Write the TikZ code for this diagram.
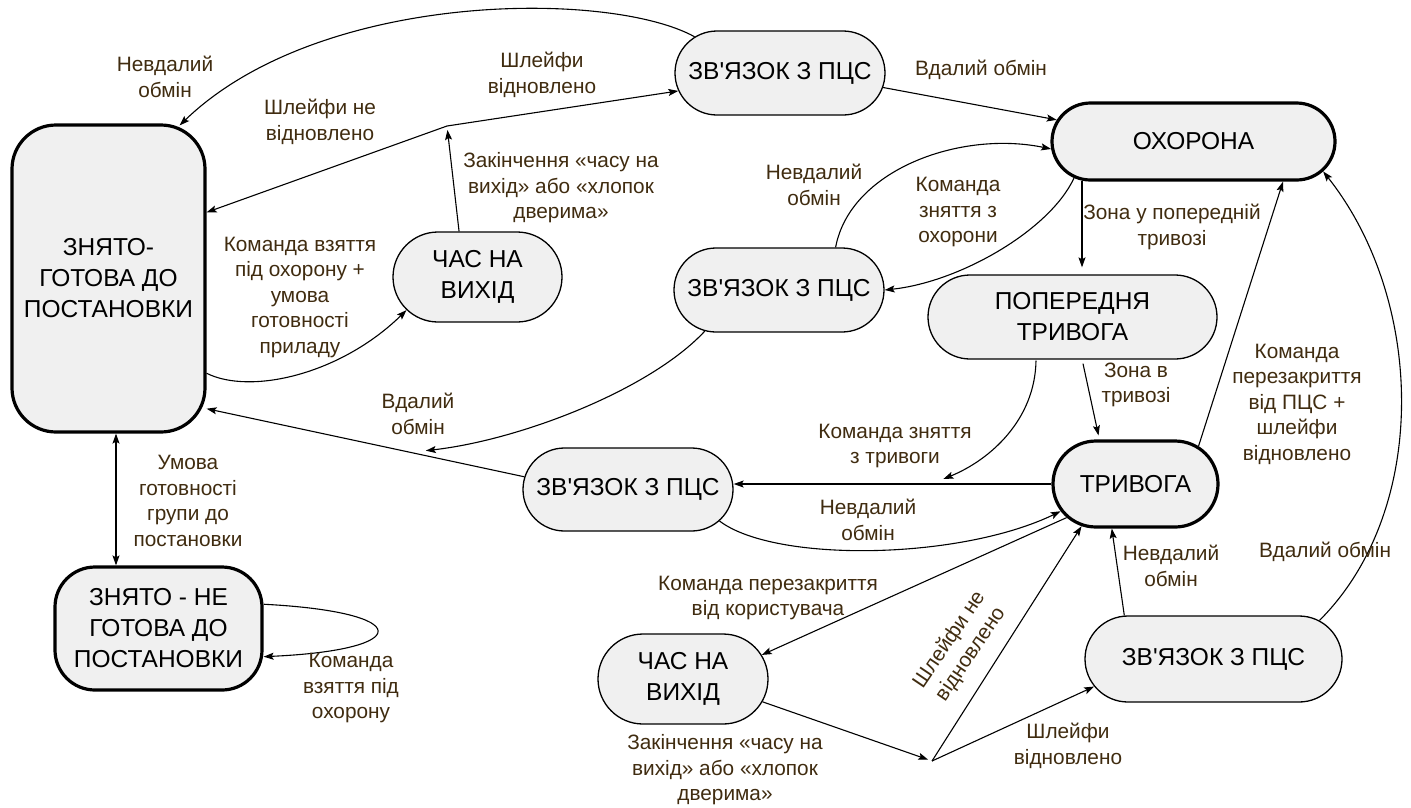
\documentclass[tikz,border=0pt]{standalone}
\usepackage{fontspec}
\setmainfont{Liberation Sans}[Ligatures=TeXOff]
\usetikzlibrary{shapes.misc,arrows.meta,calc}
\definecolor{nodefill}{RGB}{240,240,240}
\definecolor{lblcol}{RGB}{64,44,16}
\newcommand{\myNF}{\fontsize{24.5}{31}\selectfont}
\newcommand{\myLF}{\fontsize{20.8}{25.5}\selectfont}
\tikzset{
  st/.style={draw, fill=nodefill, line width=1.3pt, font=\myNF, align=center, inner sep=0pt},
  stad/.style={st, rounded rectangle},
  heavy/.style={line width=3.2pt},
  lbl/.style={font=\myLF, text=lblcol, align=center, inner sep=0pt},
  arr/.style={-{Stealth[length=10pt,width=7pt,inset=2pt]}, line width=1.1pt},
  darr/.style={{Stealth[length=10pt,width=7pt,inset=2pt]}-{Stealth[length=10pt,width=7pt,inset=2pt]}, line width=1.1pt},
}
\begin{document}
\begin{tikzpicture}[x=1pt,y=-1pt]
\path[use as bounding box, fill=white] (0,0) rectangle (1411,807);

% nodes
\node[st, heavy, rounded corners=44pt, minimum width=193pt, minimum height=307pt] (Z1) at (108.5,278.5) {ЗНЯТО-\\ГОТОВА ДО\\ПОСТАНОВКИ};
\node[st, heavy, rounded corners=40pt, minimum width=207pt, minimum height=123pt] (Z2) at (158.5,628.5) {ЗНЯТО - НЕ\\ГОТОВА ДО\\ПОСТАНОВКИ};
\node[stad, minimum width=169pt, minimum height=90pt] (C1) at (477.5,277) {ЧАС НА\\ВИХІД};
\node[stad, minimum width=210pt, minimum height=84pt] (S1) at (780,73) {ЗВ'ЯЗОК З ПЦС};
\node[stad, heavy, minimum width=283pt, minimum height=77pt] (O) at (1193.5,141.5) {ОХОРОНА};
\node[stad, minimum width=210pt, minimum height=84pt] (S2) at (779,290) {ЗВ'ЯЗОК З ПЦС};
\node[stad, minimum width=289pt, minimum height=84pt] (P) at (1072.5,317) {ПОПЕРЕДНЯ\\ТРИВОГА};
\node[stad, heavy, minimum width=165pt, minimum height=86pt] (T) at (1135.5,484) {ТРИВОГА};
\node[stad, minimum width=210pt, minimum height=83pt] (S3) at (628,489.5) {ЗВ'ЯЗОК З ПЦС};
\node[stad, minimum width=170pt, minimum height=90pt] (C2) at (683,679) {ЧАС НА\\ВИХІД};
\node[stad, minimum width=257pt, minimum height=86pt] (S4) at (1213.5,659) {ЗВ'ЯЗОК З ПЦС};
\coordinate (J1) at (447,126);
\coordinate (J2) at (932,761);

% connectors
\draw[arr] (S1.157) .. controls (610,-10) and (320,-10) .. ([shift={(-27,2)}]Z1.north east);
\draw[arr] (S1.-8) -- (O.171);
\draw[arr] (Z1.-44) .. controls (250,395) and (340,375) .. (C1.205);
\draw[arr, shorten >=4pt] (C1.112) -- (J1);
\draw[arr] (J1) -- (S1.190);
\draw[arr] (J1) -- (Z1.34);
\draw[arr] (S2.37) .. controls (850,170) and (960,130) .. (O.183);
\draw[arr] (O.197) .. controls (1050,230) and (960,282) .. (S2.east);
\draw[arr] ([shift={(-111.5,-1)}]O.south) -- ([shift={(9.5,-7)}]P.north);
\coordinate (M1) at ($(S3.173)!0.31!(Z1.-53)$);
\draw[arr] (S3.173) -- (Z1.-53);
\draw[arr] (S2.209) .. controls (650,390) and (520,440) .. ([shift={(0,-5)}]M1);
\draw[arr] ([shift={(10.5,4)}]P.south) -- ([shift={(-37,-4)}]T.north);
\coordinate (M2) at ($(T.west)!0.34!(T.west -| S3.east)$);
\draw[arr] ([shift={(-36.5,1)}]P.south) .. controls (1035,420) and (990,460) .. ([shift={(0,-5)}]M2);
\draw[arr] (T.west) -- (T.west -| S3.east);
\draw[arr] (S3.-19) .. controls (775,563) and (960,560) .. (T.200);
\draw[arr] (T.206) -- (C2.17);
\draw[arr, shorten >=4pt] (C2.-16) -- (J2);
\draw[arr] (J2) -- (T.218);
\draw[arr] (J2) -- (S4.193);
\draw[arr] (S4.154) -- (T.242);
\draw[arr] (S4.20) .. controls (1430,510) and (1425,300) .. (O.-13);
\draw[arr] (T.31) -- ([shift={(89.5,0)}]O.south);
\draw[darr] ([shift={(7.5,0)}]Z1.south) -- ([shift={(-42.5,0)}]Z2.north);
\draw[arr] (Z2.13) .. controls (415,612) and (415,650) .. (Z2.-15);

% labels
\node[lbl] (l1) at (165,77) {Невдалий\\обмін};
\node[lbl] (l2) at (320,122) {Шлейфи не\\відновлено};
\node[lbl] (l3) at (542,75) {Шлейфи\\відновлено};
\node[lbl] (l4) at (981,70) {Вдалий обмін};
\node[lbl] (l5) at (561,188) {Закінчення «часу на\\вихід» або «хлопок\\дверима»};
\node[lbl] (l6) at (814,185) {Невдалий\\обмін};
\node[lbl] (l7) at (958,212) {Команда\\зняття з\\охорони};
\node[lbl] (l8) at (1172,227) {Зона у попередній\\тривозі};
\node[lbl] (l9) at (300,297) {Команда взяття\\під охорону +\\умова\\готовності\\приладу};
\node[lbl] (l10) at (418,414) {Вдалий\\обмін};
\node[lbl] (l11) at (895,446) {Команда зняття\\з тривоги};
\node[lbl] (l12) at (1136,385) {Зона в\\тривозі};
\node[lbl] (l13) at (1297,404) {Команда\\перезакриття\\від ПЦС +\\шлейфи\\відновлено};
\node[lbl] (l14) at (868,520) {Невдалий\\обмін};
\node[lbl] (l15) at (768,598) {Команда перезакриття\\від користувача};
\node[lbl] (l16) at (725,770) {Закінчення «часу на\\вихід» або «хлопок\\дверима»};
\node[lbl, rotate=56] (l17) at (960,647) {Шлейфи не\\відновлено};
\node[lbl] (l18) at (1068,746) {Шлейфи\\відновлено};
\node[lbl] (l19) at (1171,566) {Невдалий\\обмін};
\node[lbl] (l20) at (1325,552) {Вдалий обмін};
\node[lbl] (l21) at (188,501) {Умова\\готовності\\групи до\\постановки};
\node[lbl] (l22) at (351,688) {Команда\\взяття під\\охорону};
\end{tikzpicture}
\end{document}
